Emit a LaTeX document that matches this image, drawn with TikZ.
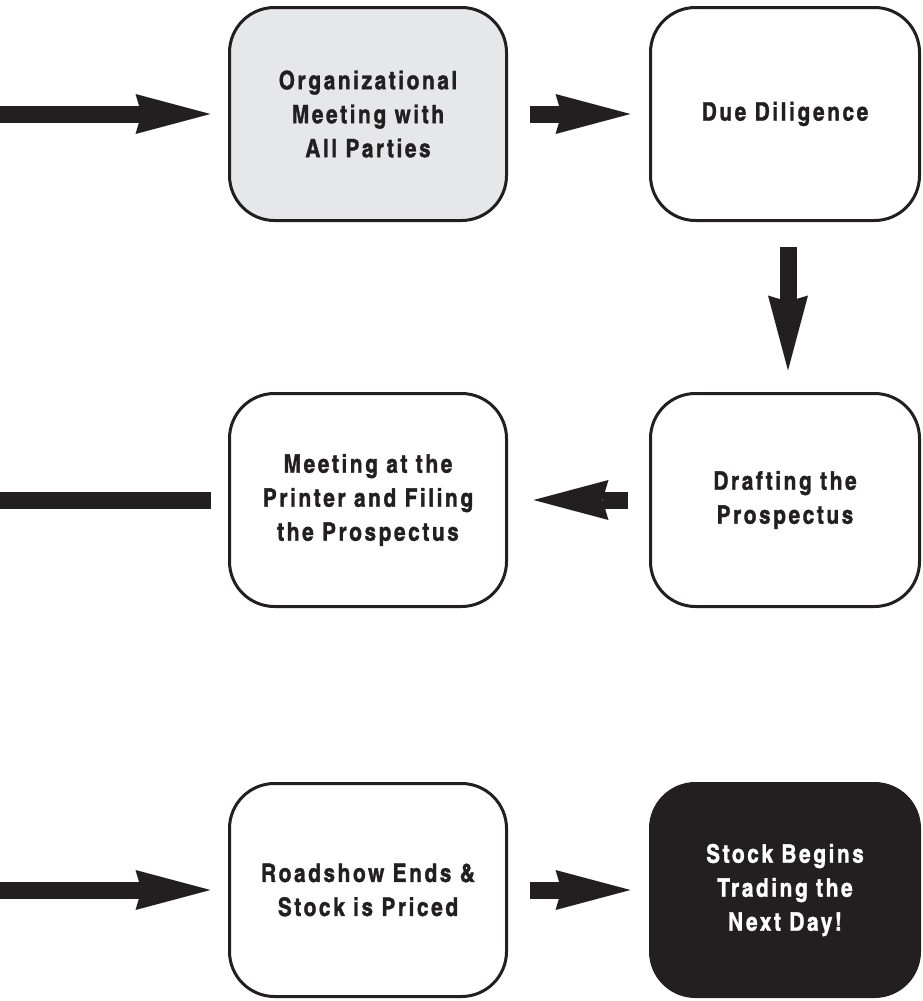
\documentclass[tikz,border=0pt]{standalone}
\usepackage{fontspec}
\setmainfont{TeX Gyre Heros Cn}[LetterSpace=10,BoldFeatures={FakeBold=1.2}]
\usetikzlibrary{arrows.meta}
\definecolor{ink}{RGB}{35,31,32}
\definecolor{boxgray}{RGB}{230,231,232}
\tikzset{
  stepbox/.style={draw=ink, line width=3pt, rounded corners=45pt,
    minimum width=277pt, minimum height=213pt, align=center, inner sep=0pt,
    font=\fontsize{25.5}{34}\selectfont\bfseries, text=ink},
  rightbox/.style={stepbox, minimum width=269pt},
  bigarrow/.style={draw=ink, line width=17pt,
    -{Stealth[length=75pt,width=40pt,inset=6pt,line width=0pt]}},
  bigline/.style={draw=ink, line width=17pt}
}
\begin{document}
\begin{tikzpicture}[x=1pt,y=-1pt]
\useasboundingbox (0,0) rectangle (922,1001);
\node[stepbox, fill=boxgray] (b1) at (368,114) {Organizational\\Meeting with\\All Parties};
\node[rightbox, fill=white] (b2) at (785,114) {Due Diligence};
\node[rightbox, fill=white] (b4) at (785,500) {Drafting the\\Prospectus};
\node[stepbox, fill=white] (b3) at (368,500) {Meeting at the\\Printer and Filing\\the Prospectus};
\node[stepbox, fill=white] (b5) at (368,890) {Roadshow Ends \&\\Stock is Priced};
\node[rightbox, fill=ink, text=white] (b6) at (785,890) {Stock Begins\\Trading the\\Next Day!};
\coordinate (s1) at (0,114);
\coordinate (s2) at (0,500);
\coordinate (s3) at (0,890);
\draw[bigarrow] (s1) -- ([xshift=-17.5pt]b1.west);
\draw[bigarrow] ([xshift=21.5pt]b1.east) -- ([xshift=-18.5pt]b2.west);
\draw[bigarrow] ([xshift=3pt,yshift=-24.5pt]b2.south) -- ([xshift=3pt,yshift=21.5pt]b4.north);
\draw[bigarrow] ([xshift=-21.5pt]b4.west) -- ([xshift=25.5pt]b3.east);
\draw[bigline] ([xshift=-17.5pt]b3.west) -- (s2);
\draw[bigarrow] (s3) -- ([xshift=-17.5pt]b5.west);
\draw[bigarrow] ([xshift=21.5pt]b5.east) -- ([xshift=-18.5pt]b6.west);
\end{tikzpicture}
\end{document}
